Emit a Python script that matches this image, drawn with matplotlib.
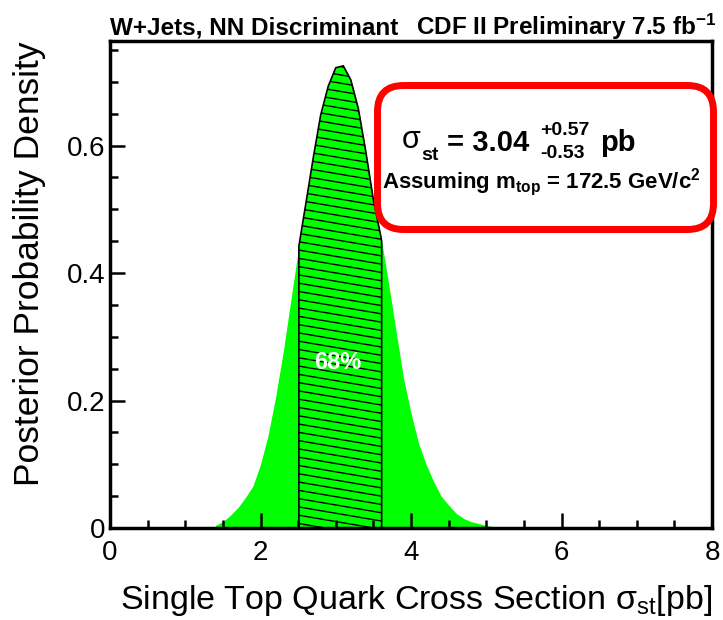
import numpy as np
import matplotlib.pyplot as plt
from matplotlib.patches import Polygon, FancyBboxPatch
from matplotlib.collections import LineCollection

plt.rcParams['font.family'] = ['Liberation Sans', 'DejaVu Sans']
plt.rcParams['mathtext.fontset'] = 'custom'
plt.rcParams['mathtext.rm'] = 'Liberation Sans'
plt.rcParams['mathtext.bf'] = 'Liberation Sans:bold'
plt.rcParams['mathtext.it'] = 'Liberation Sans:italic'

# posterior
sigma_pb = [1.40, 1.50, 1.60, 1.70, 1.80, 1.90, 2.00, 2.10, 2.20, 2.30, 2.40,
            2.50, 2.60, 2.70, 2.80, 2.90, 3.00, 3.10, 3.20, 3.30, 3.40, 3.50,
            3.60, 3.70, 3.80, 3.90, 4.00, 4.10, 4.20, 4.30, 4.40, 4.50, 4.60,
            4.70, 4.80, 4.90, 5.00, 5.10, 5.15]
density = [0.004, 0.010, 0.020, 0.032, 0.048, 0.066, 0.100, 0.145, 0.205, 0.275, 0.355,
           0.435, 0.507, 0.580, 0.648, 0.693, 0.722, 0.725, 0.703, 0.658, 0.590, 0.515,
           0.457, 0.385, 0.310, 0.235, 0.180, 0.133, 0.100, 0.073, 0.050, 0.036, 0.023,
           0.015, 0.010, 0.007, 0.004, 0.002, 0.0]
interval = [2.51, 3.61]
xticks = [0, 2, 4, 6, 8]
yticks = [0, 0.2, 0.4, 0.6]
ytick_labels = ['0', '0.2', '0.4', '0.6']

W, H = 723, 620
fig = plt.figure(figsize=(W / 100, H / 100), dpi=100)
ax = fig.add_axes([110 / W, (H - 528) / H, 602 / W, 487 / H])

green = '#00ff00'
ax.fill_between(sigma_pb, density, color=green, lw=0, zorder=1)

# 68% band
lo, hi = interval
x_in = [lo] + [x for x in sigma_pb if lo < x < hi] + [hi]
y_in = np.interp(x_in, sigma_pb, density)
verts = [(lo, 0)] + list(zip(x_in, y_in)) + [(hi, 0)]
band = Polygon(verts, closed=True, fill=False, ec='black', lw=1.2, zorder=3)
ax.add_patch(band)

slope = -0.0201
segs = []
for c in np.arange(-0.03, 0.80, 0.013):
    segs.append([(lo - 0.1, c), (hi + 0.1, c + slope * (hi - lo + 0.2))])
hatch = LineCollection(segs, colors='black', linewidths=1.0, zorder=2)
ax.add_collection(hatch)
hatch.set_clip_path(band)

ax.text(3.02, 0.26, '68%', color='white', fontsize=17, fontweight='bold',
        ha='center', va='center', zorder=4)

ax.set_xlim(0, 8)
ax.set_ylim(0, 0.764)
ax.set_xticks(xticks)
ax.set_xticklabels([str(t) for t in xticks])
ax.set_yticks(yticks)
ax.set_yticklabels(ytick_labels)
ax.set_xticks(np.arange(0, 8.01, 0.5), minor=True)
ax.set_yticks(np.arange(0, 0.76, 0.05), minor=True)
ax.tick_params(which='both', direction='in', top=False, right=False, width=1.8,
               labelsize=20)
ax.tick_params(which='major', length=11)
ax.tick_params(which='minor', length=5.5)
ax.tick_params(axis='x', pad=9)
for s in ax.spines.values():
    s.set_linewidth(2.5)

ax.set_xlabel(r'Single Top Quark Cross Section σ$_{\rm st}$[pb]', fontsize=24.5,
              loc='right', labelpad=12)
ax.set_ylabel('Posterior Probability Density', fontsize=25.5, loc='top', labelpad=15)

# header
fig.text(110 / W, 1 - 35 / H, 'W+Jets, NN Discriminant', fontsize=17.5,
         fontweight='bold', va='baseline')
fig.text(716 / W, 1 - 35 / H, r'CDF II Preliminary 7.5 fb$^{\mathbf{-1}}$',
         fontsize=17.5, fontweight='bold', va='baseline', ha='right')

# result box
box = FancyBboxPatch((3.775, 3.905), 3.36, 1.44,
                     boxstyle='round,pad=0,rounding_size=0.26',
                     transform=fig.dpi_scale_trans, fc='white', ec='#ff0000',
                     lw=5, zorder=10)
fig.add_artist(box)


def put(x, y, s, size, bold=True, ha='left'):
    fig.text(x / W, 1 - y / H, s, fontsize=size,
             fontweight='bold' if bold else 'normal', va='baseline', ha=ha,
             zorder=11)


put(402, 148, 'σ', 22, bold=False)
put(421, 160, 'st', 14)
put(447, 151, '= 3.04', 21)
put(540, 135, '+0.57', 14)
put(540, 158, '-0.53', 14)
put(600, 151, 'pb', 21)
put(382, 188, r'Assuming m$_{\mathbf{top}}$ = 172.5 GeV/c$^{\mathbf{2}}$', 16)

fig.savefig('out.png', dpi=100)
